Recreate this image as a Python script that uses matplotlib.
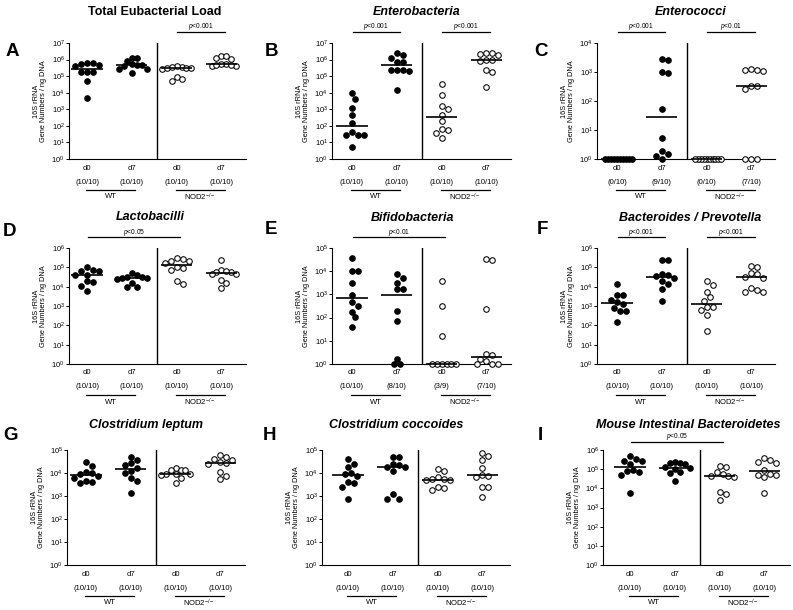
import numpy as np
import matplotlib.pyplot as plt
from matplotlib.transforms import offset_copy
from matplotlib.ticker import NullLocator

plt.rcParams['font.family'] = ['Liberation Sans', 'DejaVu Sans']
plt.rcParams['mathtext.fontset'] = 'custom'
plt.rcParams['mathtext.rm'] = 'Liberation Sans'
plt.rcParams['mathtext.it'] = 'Liberation Sans:italic'
plt.rcParams['mathtext.bf'] = 'Liberation Sans:bold'
plt.rcParams['mathtext.default'] = 'regular'

# log10 of 16S rRNA gene numbers / ng DNA, 0 = not detected (drawn at 10^0)
days = ["d0", "d7", "d0", "d7"]
strains = ["WT", "NOD2$^{-/-}$"]

eub_wt_d0 = [5.79, 5.69, 5.59, 5.71, 5.79, 5.25, 5.25, 5.25, 4.71, 3.66]
eub_wt_d7 = [5.91, 6.11, 6.11, 5.65, 5.71, 5.65, 5.59, 5.43, 5.43, 5.19]
eub_nod_d0 = [5.55, 5.45, 5.50, 5.62, 5.55, 5.52, 5.50, 4.95, 4.71, 4.81]
eub_nod_d7 = [6.20, 6.10, 6.04, 6.20, 5.71, 5.59, 5.75, 5.59, 5.67, 5.67]

ent_wt_d0 = [3.96, 3.62, 3.08, 2.66, 2.15, 1.62, 1.44, 1.44, 1.44, 0.72]
ent_wt_d7 = [6.26, 6.12, 6.42, 5.86, 5.86, 5.36, 5.36, 5.36, 5.32, 4.16]
ent_nod_d0 = [4.52, 3.86, 3.20, 3.00, 2.66, 2.30, 1.84, 1.78, 1.56, 1.26]
ent_nod_d7 = [6.42, 6.36, 6.30, 6.40, 6.00, 5.96, 5.92, 5.36, 5.22, 4.36]

ecc_wt_d0 = [0, 0, 0, 0, 0, 0, 0, 0, 0, 0]
ecc_wt_d7 = [3.46, 3.43, 2.97, 3.00, 1.71, 0.74, 0.26, 0.17, 0.11, 0]
ecc_nod_d0 = [0, 0, 0, 0, 0, 0, 0, 0, 0, 0]
ecc_nod_d7 = [3.07, 3.05, 3.07, 3.10, 2.51, 2.40, 2.51, 0, 0, 0]

lac_wt_d0 = [5.04, 4.85, 4.80, 4.83, 4.62, 4.60, 4.28, 4.25, 4.02, 3.78]
lac_wt_d7 = [4.72, 4.60, 4.52, 4.50, 4.47, 4.45, 4.42, 4.20, 3.97, 4.00]
lac_nod_d0 = [5.50, 5.35, 5.22, 5.33, 5.42, 4.95, 4.85, 5.00, 4.15, 4.30]
lac_nod_d7 = [5.36, 4.85, 4.78, 4.65, 4.68, 4.75, 4.80, 4.35, 4.18, 3.93]

bif_wt_d0 = [4.57, 4.00, 4.00, 3.47, 2.97, 2.69, 2.50, 2.26, 2.01, 1.61]
bif_wt_d7 = [3.90, 3.71, 3.51, 3.23, 3.23, 2.29, 1.86, 0.23, 0, 0]
bif_nod_d0 = [3.57, 2.51, 1.19, 0, 0, 0, 0, 0, 0]
bif_nod_d7 = [4.54, 4.50, 2.37, 0.44, 0.40, 0.23, 0.11, 0, 0, 0]

bac_wt_d0 = [4.14, 3.59, 3.59, 3.33, 3.10, 3.20, 2.72, 2.74, 2.90, 2.17]
bac_wt_d7 = [5.40, 5.40, 4.66, 4.62, 4.55, 4.45, 4.28, 4.14, 3.90, 3.24]
bac_nod_d0 = [4.31, 4.10, 3.72, 3.45, 3.25, 2.93, 2.93, 2.80, 2.52, 1.69]
bac_nod_d7 = [5.05, 5.00, 4.72, 4.68, 4.50, 4.45, 3.95, 3.85, 3.72, 3.70]

clep_wt_d0 = [4.47, 4.30, 4.05, 4.00, 3.95, 3.85, 3.80, 3.65, 3.60, 3.55]
clep_wt_d7 = [4.71, 4.57, 4.42, 4.35, 4.20, 4.10, 3.99, 3.77, 3.66, 3.12]
clep_nod_d0 = [4.22, 4.15, 4.12, 4.15, 3.97, 3.95, 3.93, 3.97, 3.80, 3.55]
clep_nod_d7 = [4.78, 4.68, 4.60, 4.57, 4.48, 4.42, 4.38, 4.06, 3.87, 3.72]

ccoc_wt_d0 = [4.61, 4.25, 4.40, 4.02, 3.95, 3.85, 3.58, 3.62, 3.40, 2.85]
ccoc_wt_d7 = [4.68, 4.68, 4.34, 4.39, 4.27, 4.27, 4.10, 3.07, 2.85, 2.85]
ccoc_nod_d0 = [4.16, 4.10, 3.84, 3.72, 3.70, 3.68, 3.72, 3.40, 3.28, 3.35]
ccoc_nod_d7 = [4.88, 4.72, 4.55, 4.23, 3.85, 3.93, 3.82, 3.40, 3.40, 2.95]

mib_wt_d0 = [5.67, 5.55, 5.45, 5.45, 5.25, 4.95, 4.90, 4.85, 4.68, 3.74]
mib_wt_d7 = [5.35, 5.30, 5.30, 5.26, 5.10, 5.05, 5.00, 4.85, 4.78, 4.40]
mib_nod_d0 = [5.17, 5.10, 4.87, 4.62, 4.60, 4.62, 4.73, 3.83, 3.70, 3.40]
mib_nod_d7 = [5.60, 5.48, 5.40, 5.30, 4.98, 4.72, 4.68, 4.60, 4.75, 3.78]

panels = [
    ("A", "Total Eubacterial Load", False, 7,
     [eub_wt_d0, eub_wt_d7, eub_nod_d0, eub_nod_d7], [(2, 3, "<0.001")]),
    ("B", "Enterobacteria", True, 7,
     [ent_wt_d0, ent_wt_d7, ent_nod_d0, ent_nod_d7], [(0, 1, "<0.001"), (2, 3, "<0.001")]),
    ("C", "Enterococci", True, 4,
     [ecc_wt_d0, ecc_wt_d7, ecc_nod_d0, ecc_nod_d7], [(0, 1, "<0.001"), (2, 3, "<0.01")]),
    ("D", "Lactobacilli", True, 6,
     [lac_wt_d0, lac_wt_d7, lac_nod_d0, lac_nod_d7], [(0, 2, "<0.05")]),
    ("E", "Bifidobacteria", True, 5,
     [bif_wt_d0, bif_wt_d7, bif_nod_d0, bif_nod_d7], [(0, 2, "<0.01")]),
    ("F", "Bacteroides / Prevotella", True, 6,
     [bac_wt_d0, bac_wt_d7, bac_nod_d0, bac_nod_d7], [(0, 1, "<0.001"), (2, 3, "<0.001")]),
    ("G", "Clostridium leptum", True, 5,
     [clep_wt_d0, clep_wt_d7, clep_nod_d0, clep_nod_d7], []),
    ("H", "Clostridium coccoides", True, 5,
     [ccoc_wt_d0, ccoc_wt_d7, ccoc_nod_d0, ccoc_nod_d7], []),
    ("I", "Mouse Intestinal Bacteroidetes", True, 6,
     [mib_wt_d0, mib_wt_d7, mib_nod_d0, mib_nod_d7], [(0, 2, "<0.05")]),
]

# pixel layout: left spine, right end, top, bottom, first category centre
geoms = [
    (69, 246, 43, 159, 87), (332, 511, 43, 159, 352), (597, 775, 43, 159, 617),
    (69, 246, 248, 364, 87), (332, 511, 248, 364, 352), (597, 775, 248, 364, 617),
    (67, 245, 450, 565, 86), (322, 510, 450, 565, 348), (603, 790, 450, 565, 630),
]
letter_pos = [(12, 52), (271, 52), (541, 52), (10, 232), (271, 230), (542, 230),
              (10, 436), (270, 436), (540, 436)]
title_pos = [(155, 12), (417, 12), (691, 12), (150, 217), (413, 218), (690, 218),
             (146, 425), (396, 425), (688, 425)]

W, H = 793, 610
STEP = 44.8


def swarm(logs, px_x, px_dec, dia=6.0, max_half=0.33):
    y = np.asarray(logs, float) * px_dec
    order = np.argsort(-y, kind='stable')
    cands = [0.0]
    for k in range(1, 40):
        cands += [k * dia / 2, -k * dia / 2]
    px, py = [], []
    offs = np.zeros(len(y))
    for i in order:
        for c in cands:
            if all((c - a) ** 2 + (y[i] - b) ** 2 >= dia ** 2 * 0.97 for a, b in zip(px, py)):
                break
        offs[i] = c
        px.append(c)
        py.append(y[i])
    offs = offs / px_x
    m = np.abs(offs).max()
    if m > max_half:
        offs = offs * max_half / m
    return offs


fig = plt.figure(figsize=(W / 100, H / 100), dpi=100)

for k, (letter, title, italic, top, groups, pvals) in enumerate(panels):
    L, R, T, B, c0 = geoms[k]
    ax = fig.add_axes([L / W, 1 - B / H, (R - L) / W, (B - T) / H])
    ax.set_xlim((L - c0) / STEP, (R - c0) / STEP)
    ax.set_yscale('log')
    ax.set_ylim(1, 10.0 ** top)
    px_dec = (B - T) / top

    for i, vals in enumerate(groups):
        v = np.array(vals, float)
        offs = swarm(v, STEP, px_dec)
        face = 'black' if i < 2 else 'white'
        ax.plot(i + offs, 10 ** v, 'o', ms=4.0, mfc=face, mec='black', mew=0.75,
                clip_on=False, zorder=3)
        med = np.median(10 ** v)
        ax.plot([i - 0.35, i + 0.35], [med, med], color='black', lw=1.2,
                solid_capstyle='butt', clip_on=False, zorder=4)

    ax.axvline(1.57, color='black', lw=1.0)

    for s in ['top', 'right']:
        ax.spines[s].set_visible(False)
    for s in ['left', 'bottom']:
        ax.spines[s].set_linewidth(0.8)
    ax.set_xticks([])
    ax.set_yticks(10.0 ** np.arange(top + 1))
    ax.set_yticklabels([f"$10^{{{n}}}$" for n in range(top + 1)])
    ax.yaxis.set_minor_locator(NullLocator())
    ax.tick_params(axis='y', length=2, width=0.7, labelsize=5.5, pad=1)
    ax.set_ylabel("16S rRNA\nGene Numbers / ng DNA", fontsize=5.3, linespacing=1.05)
    ax.yaxis.set_label_coords(-22 / (R - L), 0.5)

    xt = ax.get_xaxis_transform()
    for i, vals in enumerate(groups):
        v = np.array(vals, float)
        ax.text(i, 0, days[i], transform=offset_copy(xt, fig, y=-9, units='dots'),
                ha='center', va='center', fontsize=5.5)
        ax.text(i, 0, f"({int(np.sum(v > 0))}/{len(v)})",
                transform=offset_copy(xt, fig, y=-23, units='dots'),
                ha='center', va='center', fontsize=5.5)
    for j, name in enumerate(strains):
        x0, x1 = 2 * j - 0.02, 2 * j + 1.07
        ax.plot([x0, x1], [0, 0], color='black', lw=0.9, clip_on=False,
                transform=offset_copy(xt, fig, y=-31, units='dots'))
        ax.text((x0 + x1) / 2, 0, name, transform=offset_copy(xt, fig, y=-38, units='dots'),
                ha='center', va='center', fontsize=5.5)

    lift = 8 if k >= 6 else 11
    for a, b, txt in pvals:
        x0, x1 = a + 0.02, b + 0.07
        ax.plot([x0, x1], [1, 1], color='black', lw=0.9, clip_on=False,
                transform=offset_copy(xt, fig, y=lift, units='dots'))
        ax.text((x0 + x1) / 2, 1, r"$\mathit{p}$" + txt,
                transform=offset_copy(xt, fig, y=lift + 5, units='dots'),
                ha='center', va='center', fontsize=4.8)

    fig.text(letter_pos[k][0] / W, 1 - letter_pos[k][1] / H, letter, fontsize=13.5,
             fontweight='bold', ha='center', va='center')
    fig.text(title_pos[k][0] / W, 1 - title_pos[k][1] / H, title, fontsize=9,
             fontweight='bold', style='italic' if italic else 'normal',
             ha='center', va='center')

fig.savefig("out.png", dpi=100)
